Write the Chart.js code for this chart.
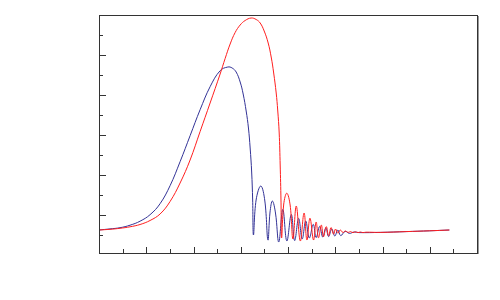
<!DOCTYPE html>
<html>
<head>
<meta charset="utf-8">
<script src="https://cdn.jsdelivr.net/npm/chart.js@4.4.0/dist/chart.umd.min.js"></script>
<style>
  html, body { margin: 0; padding: 0; background: #fff; }
  #wrap { width: 500px; height: 300px; }
</style>
</head>
<body>
<div id="wrap"><canvas id="chart"></canvas></div>
<script>
// tick positions (no labels in the original)
const xTicks = [1, 2, 3, 4, 5, 6, 7, 8, 9, 10, 11, 12, 13, 14, 15];
const yTicks = [0, 1, 2, 3, 4, 5, 6, 7, 8, 9, 10];

// blue curve
const blueX = [0, 0.466, 0.890, 1.314, 1.737, 2.161, 2.585, 3.008, 3.432, 3.856, 4.280, 4.703, 5.127, 5.453,
  5.636, 5.805, 5.975, 6.102, 6.229, 6.326, 6.398, 6.462, 6.504, 6.538,
  6.65, 6.85, 7.02, 7.15, 7.24, 7.34, 7.47, 7.61, 7.78, 7.95, 8.14, 8.28, 8.45, 8.60, 8.75, 8.90, 9.07, 9.19, 9.34, 9.47,
  9.60, 9.72, 9.85, 9.98, 10.11, 10.23, 10.42, 10.60, 10.80, 11.0, 11.9, 13.0, 14.0, 14.83];
const blueY = [0.25, 0.305, 0.365, 0.49, 0.69, 1.015, 1.565, 2.465, 3.665, 4.965, 6.265, 7.415, 8.215, 8.40,
  8.35, 8.15, 7.65, 7.05, 6.20, 5.35, 4.35, 3.15, 1.75, 0,
  1.75, 2.45, 1.70, -0.25, 1.15, 1.70, 1.10, -0.35, 1.28, -0.30, 1.03, -0.28, 0.83, -0.20, 0.70, -0.15, 0.53, -0.13, 0.43, -0.10,
  0.35, -0.08, 0.30, -0.05, 0.25, -0.03, 0.18, 0.08, 0.15, 0.12, 0.13, 0.17, 0.21, 0.25];

// red curve
const redX = [0, 0.466, 0.890, 1.314, 1.737, 2.161, 2.585, 3.008, 3.432, 3.856, 4.280, 4.703, 5.127, 5.339, 5.551, 5.763,
  5.975, 6.186, 6.441, 6.653, 6.822, 6.992, 7.161, 7.288, 7.394, 7.500, 7.564, 7.627, 7.669, 7.703, 7.729,
  7.82, 7.95, 8.09, 8.21, 8.35, 8.52, 8.68, 8.80, 8.93, 9.08, 9.19, 9.29, 9.41, 9.50, 9.62, 9.72, 9.82, 9.93,
  10.01, 10.11, 10.21, 10.33, 10.42, 10.55, 10.64, 10.75, 10.85, 10.96, 11.06, 11.17, 11.30, 11.9, 13.0, 14.0, 14.83];
const redY = [0.25, 0.285, 0.335, 0.41, 0.525, 0.725, 1.05, 1.675, 2.60, 3.75, 5.175, 6.60, 8.05, 8.825, 9.55, 10.125,
  10.50, 10.725, 10.85, 10.775, 10.60, 10.20, 9.60, 8.90, 8.10, 7.10, 6.25, 5.10, 3.50, 1.75, -0.15,
  1.55, 2.09, 1.50, -0.20, 1.45, -0.30, 1.10, -0.25, 0.84, -0.25, 0.65, -0.14, 0.50, -0.09, 0.42, -0.04, 0.37, 0.04,
  0.30, 0.09, 0.25, 0.12, 0.20, 0.13, 0.17, 0.12, 0.16, 0.12, 0.15, 0.12, 0.14, 0.13, 0.17, 0.21, 0.25];

function toPoints(xs, ys) {
  return xs.map((x, i) => ({ x: x, y: ys[i] }));
}

// frame and inward ticks
const framePlugin = {
  id: 'frame',
  afterDraw(chart) {
    const ctx = chart.ctx;
    const a = chart.chartArea;
    const xs = chart.scales.x;
    const ys = chart.scales.y;
    ctx.save();
    ctx.strokeStyle = '#333';
    ctx.lineWidth = 1;
    ctx.strokeRect(Math.round(a.left) + 0.5, Math.round(a.top) + 0.5,
      Math.round(a.right - a.left), Math.round(a.bottom - a.top));
    ctx.strokeStyle = '#999';
    ctx.beginPath();
    ctx.moveTo(Math.round(a.right) + 1.5, Math.round(a.top) + 1);
    ctx.lineTo(Math.round(a.right) + 1.5, Math.round(a.bottom) + 1);
    ctx.stroke();
    ctx.strokeStyle = '#333';
    ctx.beginPath();
    yTicks.forEach(v => {
      const py = Math.round(ys.getPixelForValue(v)) + 0.5;
      const len = v % 2 ? 7 : 4;
      ctx.moveTo(a.left, py);
      ctx.lineTo(a.left + len, py);
    });
    xTicks.forEach(v => {
      const px = Math.round(xs.getPixelForValue(v)) + 0.5;
      const len = v % 2 ? 4 : 6;
      ctx.moveTo(px, a.bottom);
      ctx.lineTo(px, a.bottom - len);
    });
    ctx.stroke();
    ctx.restore();
  }
};

new Chart(document.getElementById('chart'), {
  type: 'scatter',
  data: {
    datasets: [
      {
        label: 'red',
        data: toPoints(redX, redY),
        showLine: true,
        borderColor: 'rgb(255, 30, 30)',
        borderWidth: 1,
        pointRadius: 0,
        tension: 0.4,
        order: 0
      },
      {
        label: 'blue',
        data: toPoints(blueX, blueY),
        showLine: true,
        borderColor: 'rgb(50, 50, 150)',
        borderWidth: 1,
        pointRadius: 0,
        tension: 0.4,
        order: 1
      }
    ]
  },
  options: {
    responsive: true,
    maintainAspectRatio: false,
    animation: false,
    layout: { padding: { left: 99, top: 15, right: 23, bottom: 47 } },
    scales: {
      x: { type: 'linear', min: 0, max: 16, display: false },
      y: { type: 'linear', min: -0.9, max: 11, display: false }
    },
    plugins: {
      legend: { display: false },
      tooltip: { enabled: false }
    }
  },
  plugins: [framePlugin]
});
</script>
</body>
</html>
